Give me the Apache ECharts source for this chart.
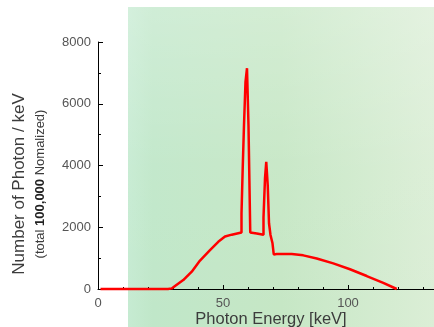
<!DOCTYPE html>
<html>
<head>
<meta charset="utf-8">
<script src="https://cdn.jsdelivr.net/npm/echarts@6/dist/echarts.min.js"></script>
<style>
html,body{margin:0;padding:0;background:#fff;}
#chart{width:434px;height:327px;}
</style>
</head>
<body>
<div id="chart"></div>
<script>
// Photon energy [keV] and counts (step-like spectrum)
var energy = [1, 28, 29.5, 30.8, 34.1, 37.5, 40.8, 44.8, 48.1, 50.8, 53.5, 57.4,
  57.4, 57.9, 57.9, 58.4, 58.4, 59.0, 59.0, 59.6, 59.6, 60.2, 60.2, 60.9, 60.9, 63.5, 66.2,
  66.2, 66.8, 66.8, 67.3, 67.3, 67.9, 67.9, 68.4, 68.4, 69.0, 69.0, 69.8, 69.8, 70.3, 70.3,
  71.5, 77.5, 82.1, 87.5, 94.1, 100.8, 107.5, 114.1, 119.5];
var counts = [0, 0, 20, 100, 290, 560, 920, 1260, 1530, 1700, 1760, 1830,
  2450, 2450, 3960, 3960, 5310, 5310, 6710, 6710, 7150, 7150, 5280, 5280, 1830, 1800, 1760,
  2320, 2320, 3580, 3580, 4120, 4120, 3340, 3340, 2130, 2130, 1750, 1750, 1480, 1480, 1120,
  1130, 1130, 1090, 990, 830, 640, 420, 200, 0];
var xTicks = [0, 50, 100];
var yTicks = [0, 2000, 4000, 6000, 8000];
var xTitle = 'Photon Energy [keV]';
var yTitle = 'Number of Photon / keV';
var ySubTitle = ['(total ', '100,000', ' Nomalized)'];

var seriesData = energy.map(function (e, i) { return [e, counts[i]]; });

var chart = echarts.init(document.getElementById('chart'));
var font = '"Liberation Sans", Arial, sans-serif';
var X_MAX = 134.4;
chart.setOption({
  animation: false,
  backgroundColor: '#ffffff',
  grid: { left: 98, right: 0, top: 42, bottom: 38, containLabel: false },
  graphic: [
    {
      type: 'rect', z: -100, silent: true,
      shape: { x: 128, y: 7, width: 306, height: 320 },
      style: {
        fill: new echarts.graphic.LinearGradient(0, 0, 1, 0, [
          { offset: 0, color: '#c6ebd2' },
          { offset: 0.08, color: '#c0e7c9' },
          { offset: 0.5, color: '#c6e7c5' },
          { offset: 1, color: '#dbeed6' }
        ])
      }
    },
    {
      type: 'rect', z: -99, silent: true,
      shape: { x: 128, y: 7, width: 306, height: 320 },
      style: {
        fill: new echarts.graphic.LinearGradient(0, 0, 0, 1, [
          { offset: 0, color: 'rgba(255,255,255,0.25)' },
          { offset: 0.5, color: 'rgba(255,255,255,0.05)' },
          { offset: 1, color: 'rgba(255,255,255,0)' }
        ])
      }
    },
    {
      type: 'text', z: 100, x: 19, y: 184, rotation: Math.PI / 2,
      style: {
        text: yTitle, font: '17px ' + font, fill: '#3c3c3c',
        align: 'center', verticalAlign: 'middle'
      }
    },
    {
      type: 'text', z: 100, x: 40, y: 184, rotation: Math.PI / 2,
      style: {
        text: ySubTitle[0] + '{b|' + ySubTitle[1] + '}' + ySubTitle[2],
        font: '13px ' + font, fill: '#3c3c3c',
        align: 'center', verticalAlign: 'middle',
        rich: { b: { fontWeight: 'bold', fontSize: 13, fontFamily: font, fill: '#222' } }
      }
    },
    {
      type: 'text', z: 100, x: 271, y: 319,
      style: {
        text: xTitle, font: '16.5px ' + font, fill: '#3c3c3c',
        align: 'center', verticalAlign: 'middle'
      }
    }
  ],
  xAxis: [{
    type: 'value', min: 0, max: X_MAX, interval: 10, position: 'bottom',
    axisLine: { show: true, lineStyle: { color: '#000', width: 1 } },
    axisTick: { show: true, inside: true, length: 2, lineStyle: { color: '#000' } },
    splitLine: { show: false },
    axisLabel: {
      margin: 8, fontSize: 13, color: '#555', fontFamily: font, showMaxLabel: false,
      formatter: function (v) { return xTicks.indexOf(v) >= 0 ? String(v) : ''; }
    }
  }, {
    type: 'value', min: 0, max: X_MAX, interval: 50, position: 'bottom', offset: 0,
    axisLine: { show: false },
    axisTick: { show: true, inside: true, length: 4, lineStyle: { color: '#000' } },
    splitLine: { show: false },
    axisLabel: { show: false }
  }],
  yAxis: {
    type: 'value', min: 0, max: 8000, interval: 2000,
    axisLine: { show: true, lineStyle: { color: '#000', width: 1 } },
    axisTick: { show: true, inside: true, length: 5, lineStyle: { color: '#000' } },
    minorTick: { show: true, splitNumber: 2, length: 3, lineStyle: { color: '#000' } },
    splitLine: { show: false },
    axisLabel: {
      margin: 7, fontSize: 13, color: '#555', fontFamily: font,
      formatter: function (v) { return yTicks.indexOf(v) >= 0 ? String(v) : ''; }
    }
  },
  series: [{
    type: 'line', data: seriesData, showSymbol: false, symbol: 'none', xAxisIndex: 0,
    lineStyle: { color: '#ff0000', width: 2.5 }, clip: false, z: 5
  }]
});
</script>
</body>
</html>
